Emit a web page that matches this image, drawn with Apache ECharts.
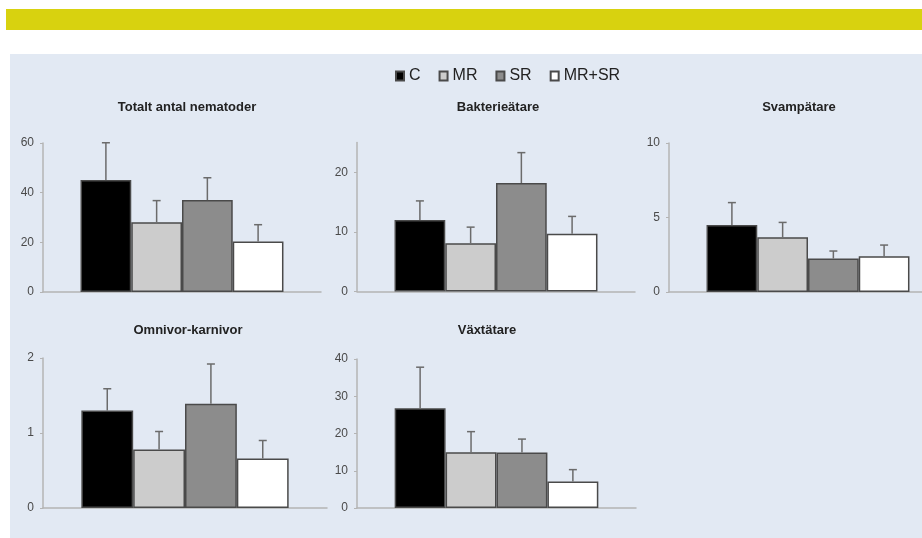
<!DOCTYPE html>
<html>
<head>
<meta charset="utf-8">
<script src="https://cdn.jsdelivr.net/npm/echarts@6/dist/echarts.min.js"></script>
<style>
  html, body { margin: 0; padding: 0; background: #fff; }
  #chart { width: 922px; height: 538px; }
</style>
</head>
<body>
<div id="chart"></div>
<script>
// behandlingar
const groups = ['C', 'MR', 'SR', 'MR+SR']
const barColors = ['#000000', '#cccccc', '#8c8c8c', '#ffffff']

const panelTitles = ['Totalt antal nematoder', 'Bakterieätare', 'Svampätare', 'Omnivor-karnivor', 'Växtätare']

// medelvärde + fel (övre felstapel)
const totalMean     = [45.1, 28.1, 37.0, 20.3]
const totalErr      = [15.0, 8.7, 9.0, 6.8]
const bakterieMean  = [12.0, 8.1, 18.2, 9.7]
const bakterieErr   = [3.2, 2.7, 5.1, 2.9]
const svampMean     = [4.5, 3.67, 2.25, 2.4]
const svampErr      = [1.5, 1.0, 0.5, 0.75]
const omnivorMean   = [1.30, 0.78, 1.39, 0.66]
const omnivorErr    = [0.29, 0.24, 0.53, 0.24]
const vaxtMean      = [26.8, 15.0, 14.9, 7.1]
const vaxtErr       = [11.0, 5.5, 3.6, 3.2]

// y-axelns skalstreck
const totalTicks    = [0, 20, 40, 60]
const bakterieTicks = [0, 10, 20]
const svampTicks    = [0, 5, 10]
const omnivorTicks  = [0, 1, 2]
const vaxtTicks     = [0, 10, 20, 30, 40]
const yMax = [60, 25, 10, 2, 40]

const panelMeans = [totalMean, bakterieMean, svampMean, omnivorMean, vaxtMean]
const panelErrs  = [totalErr, bakterieErr, svampErr, omnivorErr, vaxtErr]
const panelTicks = [totalTicks, bakterieTicks, svampTicks, omnivorTicks, vaxtTicks]

// layout
const gridBoxes = [
  { left: 43,  top: 143, width: 278, height: 149 },
  { left: 357, top: 142.5, width: 278, height: 149 },
  { left: 669, top: 143, width: 278, height: 149 },
  { left: 43,  top: 358, width: 284, height: 150 },
  { left: 357, top: 359, width: 279, height: 149 },
]
const titlePos = [[187, 101], [498, 101], [799, 101], [188, 324], [487, 324]]
const GAP = 0.27

const FONT = '"Liberation Sans", Arial, sans-serif'
const chart = echarts.init(document.getElementById('chart'), null, { renderer: 'canvas' })

function renderErr(params, api) {
  const i = api.value(3)
  const base = api.coord([api.value(0), api.value(1)])
  const top = api.coord([api.value(0), api.value(2)])
  const band = api.size([1, 0])[0]
  const groupW = band * (1 - GAP)
  const barW = groupW / groups.length
  const x = base[0] - groupW / 2 + barW * (i + 0.5)
  const st = { stroke: '#6b6b6b', lineWidth: 1.5 }
  return {
    type: 'group',
    children: [
      { type: 'line', shape: { x1: x, y1: base[1], x2: x, y2: top[1] }, style: st },
      { type: 'line', shape: { x1: x - 4, y1: top[1], x2: x + 4, y2: top[1] }, style: st },
    ],
  }
}

const series = []
panelMeans.forEach((means, p) => {
  groups.forEach((g, i) => {
    series.push({
      name: g, type: 'bar', xAxisIndex: p, yAxisIndex: p,
      data: [means[i]], barGap: '0%', barCategoryGap: (GAP * 100) + '%',
      itemStyle: { color: barColors[i], borderColor: '#4a4a4a', borderWidth: 1.5 },
      emphasis: { disabled: true },
    })
  })
  series.push({
    name: 'err' + p, type: 'custom', xAxisIndex: p, yAxisIndex: p, z: 5,
    renderItem: renderErr, encode: { x: 0, y: [1, 2] },
    data: groups.map((g, i) => [0, means[i], means[i] + panelErrs[p][i], i]),
    silent: true,
  })
})

const option = {
  backgroundColor: '#ffffff',
  animation: false,
  graphic: [
    { type: 'rect', shape: { x: 6, y: 9, width: 916, height: 21 }, style: { fill: '#d8d20f' }, z: -10 },
    { type: 'rect', shape: { x: 10, y: 54, width: 912, height: 484 }, style: { fill: '#e2e9f3' }, z: -10 },
  ],
  legend: {
    data: groups, left: 390, top: 63, icon: 'rect', itemWidth: 8, itemHeight: 9, itemGap: 18,
    textStyle: { color: '#222', fontSize: 16, fontFamily: FONT },
    selectedMode: false,
  },
  title: panelTitles.map((t, p) => ({
    text: t, left: titlePos[p][0], top: titlePos[p][1], textAlign: 'center', padding: 0,
    textStyle: { fontSize: 13, fontWeight: 'bold', color: '#222', fontFamily: FONT },
  })),
  grid: gridBoxes.map(b => ({ ...b, containLabel: false, outerBoundsMode: 'none' })),
  xAxis: gridBoxes.map((b, p) => ({
    type: 'category', gridIndex: p, data: [''],
    axisLine: { lineStyle: { color: '#b4b4b4', width: 1.5 } },
    axisTick: { show: false }, axisLabel: { show: false }, splitLine: { show: false },
  })),
  yAxis: gridBoxes.map((b, p) => ({
    type: 'value', gridIndex: p, min: 0, max: yMax[p],
    axisLine: { show: true, lineStyle: { color: '#b4b4b4', width: 1.5 } },
    axisTick: { show: true, length: 3, customValues: panelTicks[p], lineStyle: { color: '#b4b4b4' } },
    axisLabel: { customValues: panelTicks[p], color: '#4a4a4a', fontSize: 12, margin: 9, fontFamily: FONT },
    splitLine: { show: false },
  })),
  series,
}
chart.setOption(option)
</script>
</body>
</html>
